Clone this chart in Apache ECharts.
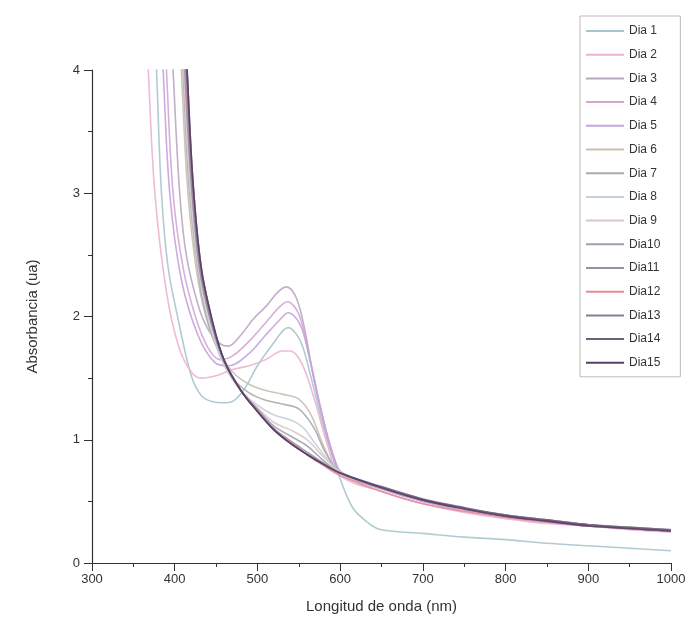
<!DOCTYPE html>
<html>
<head>
<meta charset="utf-8">
<script src="https://cdn.jsdelivr.net/npm/echarts@6/dist/echarts.min.js"></script>
<style>
html,body{margin:0;padding:0;background:#fff;}
#c{width:694px;height:642px;}
</style>
</head>
<body>
<div id="c"></div>
<script>
// Series names
var seriesNames = ['Dia 1','Dia 2','Dia 3','Dia 4','Dia 5','Dia 6','Dia 7','Dia 8','Dia 9','Dia10','Dia11','Dia12','Dia13','Dia14','Dia15'];
// Tick labels
var xTicks = [300,400,500,600,700,800,900,1000];
var yTicks = [0,1,2,3,4];

// [wavelength nm, absorbance]
var dia1 = [[376,4.3],[378,4.0],[384,3.0],[392,2.4],[405,1.95],[420,1.52],[432,1.36],[445,1.31],[460,1.3],[472,1.32],[485,1.42],[500,1.6],[520,1.79],[537,1.91],[552,1.8],[565,1.5],[580,1.1],[597,0.74],[615,0.45],[635,0.32],[650,0.27],[700,0.24],[750,0.21],[800,0.19],[850,0.16],[900,0.14],[950,0.12],[1000,0.1]];
var dia2 = [[366,4.3],[368,4.0],[376,3.0],[390,2.2],[405,1.75],[420,1.55],[432,1.5],[450,1.52],[470,1.57],[490,1.6],[510,1.65],[530,1.72],[540,1.72],[555,1.6],[570,1.3],[585,0.95],[600,0.71],[650,0.58],[700,0.48],[750,0.41],[800,0.36],[850,0.32],[900,0.3],[950,0.27],[1000,0.25]];
var dia3 = [[396,4.3],[398,4.0],[406,3.0],[414,2.5],[428,2.1],[440,1.9],[455,1.78],[465,1.76],[480,1.85],[495,1.98],[510,2.08],[525,2.2],[535,2.24],[547,2.15],[557,1.9],[568,1.5],[582,1.1],[593,0.85],[602,0.73],[650,0.61],[700,0.51],[750,0.44],[800,0.39],[850,0.34],[900,0.31],[950,0.28],[1000,0.26]];
var dia4 = [[388,4.3],[390,4.0],[398,3.0],[410,2.4],[425,2.0],[440,1.75],[455,1.65],[470,1.68],[490,1.8],[510,1.95],[527,2.08],[536,2.12],[550,2.02],[562,1.7],[575,1.3],[588,0.95],[602,0.73],[650,0.6],[700,0.5],[750,0.43],[800,0.38],[850,0.34],[900,0.31],[950,0.28],[1000,0.26]];
var dia5 = [[384,4.3],[386,4.0],[394,3.0],[408,2.3],[428,1.85],[448,1.63],[465,1.6],[490,1.7],[510,1.85],[528,1.98],[537,2.03],[552,1.93],[565,1.6],[578,1.2],[590,0.9],[602,0.73],[650,0.6],[700,0.5],[750,0.43],[800,0.38],[850,0.34],[900,0.3],[950,0.28],[1000,0.26]];
var dia6 = [[406,4.3],[408,4.0],[416,3.0],[428,2.3],[442,1.9],[455,1.7],[470,1.55],[490,1.45],[510,1.4],[530,1.37],[550,1.33],[565,1.2],[580,0.95],[598,0.74],[650,0.61],[700,0.51],[750,0.44],[800,0.39],[850,0.35],[900,0.31],[950,0.29],[1000,0.27]];
var dia7 = [[408,4.3],[410,4.0],[418,3.0],[432,2.2],[445,1.85],[458,1.65],[470,1.5],[490,1.38],[510,1.32],[530,1.29],[550,1.25],[568,1.1],[582,0.9],[600,0.74],[650,0.61],[700,0.51],[750,0.44],[800,0.39],[850,0.35],[900,0.31],[950,0.29],[1000,0.27]];
var dia8 = [[409,4.3],[411,4.0],[419,3.0],[432,2.25],[446,1.85],[460,1.6],[480,1.4],[500,1.28],[520,1.2],[540,1.16],[555,1.1],[572,0.95],[600,0.74],[650,0.61],[700,0.51],[750,0.44],[800,0.38],[850,0.34],[900,0.31],[950,0.28],[1000,0.27]];
var dia9 = [[410,4.3],[412,4.0],[420,3.0],[432,2.3],[446,1.9],[460,1.62],[480,1.4],[500,1.26],[520,1.14],[540,1.08],[560,1.0],[580,0.86],[600,0.74],[650,0.61],[700,0.51],[750,0.44],[800,0.38],[850,0.34],[900,0.31],[950,0.28],[1000,0.26]];
var dia10 = [[410,4.3],[412,4.0],[420,3.1],[430,2.4],[444,1.95],[460,1.63],[480,1.4],[500,1.25],[520,1.11],[540,1.03],[560,0.95],[580,0.83],[600,0.73],[650,0.61],[700,0.51],[750,0.44],[800,0.38],[850,0.34],[900,0.31],[950,0.28],[1000,0.26]];
var dia11 = [[411,4.3],[413,4.0],[420,3.1],[430,2.4],[444,1.95],[460,1.64],[480,1.4],[500,1.24],[520,1.09],[540,0.99],[560,0.9],[580,0.81],[600,0.73],[650,0.61],[700,0.51],[750,0.44],[800,0.38],[850,0.34],[900,0.31],[950,0.28],[1000,0.26]];
var dia12 = [[411,4.3],[413,4.0],[421,3.1],[431,2.4],[445,1.95],[460,1.64],[480,1.4],[500,1.23],[520,1.08],[540,0.98],[560,0.88],[580,0.79],[600,0.71],[650,0.58],[700,0.48],[750,0.42],[800,0.37],[850,0.33],[900,0.3],[950,0.28],[1000,0.26]];
var dia13 = [[412,4.3],[414,4.0],[421,3.1],[431,2.4],[445,1.95],[460,1.64],[480,1.4],[500,1.23],[520,1.08],[540,0.97],[560,0.88],[580,0.8],[600,0.73],[650,0.61],[700,0.51],[750,0.44],[800,0.38],[850,0.34],[900,0.31],[950,0.28],[1000,0.26]];
var dia14 = [[413,4.3],[415,4.0],[422,3.1],[432,2.4],[446,1.95],[460,1.64],[480,1.4],[500,1.23],[520,1.08],[540,0.97],[560,0.88],[580,0.8],[600,0.73],[650,0.62],[700,0.52],[750,0.45],[800,0.39],[850,0.35],[900,0.31],[950,0.29],[1000,0.27]];
var dia15 = [[413,4.3],[415,4.0],[422,3.1],[432,2.4],[446,1.95],[460,1.64],[480,1.4],[500,1.23],[520,1.08],[540,0.97],[560,0.88],[580,0.8],[600,0.73],[650,0.61],[700,0.51],[750,0.44],[800,0.38],[850,0.34],[900,0.3],[950,0.28],[1000,0.26]];

var allData = [dia1,dia2,dia3,dia4,dia5,dia6,dia7,dia8,dia9,dia10,dia11,dia12,dia13,dia14,dia15];
var colors = ['#a9c6cc','#ecb3d2','#b7a7c0','#d4a6d4','#c7a2dc','#c8bfb0','#aaaaaa','#c6d0da','#dcc4cc','#a2a0ac','#9a90a6','#e58a9a','#8a7e96','#6f5f80','#5a3f66'];

var series = seriesNames.map(function(n,i){
  return {
    name: n, type: 'line', data: allData[i], smooth: 0.35,
    symbol: 'none', clip: true,
    lineStyle: {width: 1.6, color: colors[i], opacity: 0.9},
    itemStyle: {color: colors[i]}
  };
});

var chart = echarts.init(document.getElementById('c'), null, {renderer:'canvas'});
chart.setOption({
  animation: false,
  backgroundColor: '#fff',
  grid: {left: 92, right: 23, top: 70, bottom: 79, containLabel: false},
  legend: {
    orient: 'vertical', left: 580, top: 16,
    padding: [9, 20, 8, 6],
    icon: 'rect',
    itemWidth: 38, itemHeight: 2, itemGap: 11.7,
    borderColor: '#bbbbbb', borderWidth: 1,
    textStyle: {fontFamily: 'Liberation Sans, Arial, sans-serif', fontSize: 12, color: '#333', lineHeight: 12},
    data: seriesNames
  },
  xAxis: {
    type: 'value', min: 300, max: 1000, interval: 100,
    name: 'Longitud de onda (nm)', nameLocation: 'middle', nameGap: 36,
    nameTextStyle: {fontFamily: 'Liberation Sans, Arial, sans-serif', fontSize: 15, color: '#333'},
    axisLine: {show: true, onZero: false, lineStyle: {color: '#333', width: 1.2}},
    axisTick: {show: true, inside: false, length: 8, lineStyle: {color: '#333'}},
    minorTick: {show: true, splitNumber: 2, length: 4, lineStyle: {color: '#333'}},
    splitLine: {show: false},
    axisLabel: {fontFamily: 'Liberation Sans, Arial, sans-serif', fontSize: 13, color: '#333', margin: 10,
      formatter: function(v){ return xTicks.indexOf(v) >= 0 ? String(v) : ''; }}
  },
  yAxis: {
    type: 'value', min: 0, max: 4, interval: 1,
    name: 'Absorbancia (ua)', nameLocation: 'middle', nameGap: 52, nameRotate: 90,
    nameTextStyle: {fontFamily: 'Liberation Sans, Arial, sans-serif', fontSize: 15, color: '#333'},
    axisLine: {show: true, onZero: false, lineStyle: {color: '#333', width: 1.2}},
    axisTick: {show: true, inside: false, length: 8, lineStyle: {color: '#333'}},
    minorTick: {show: true, splitNumber: 2, length: 4, lineStyle: {color: '#333'}},
    splitLine: {show: false},
    axisLabel: {fontFamily: 'Liberation Sans, Arial, sans-serif', fontSize: 13, color: '#333', margin: 12,
      formatter: function(v){ return yTicks.indexOf(v) >= 0 ? String(v) : ''; }}
  },
  series: series
});
</script>
</body>
</html>
